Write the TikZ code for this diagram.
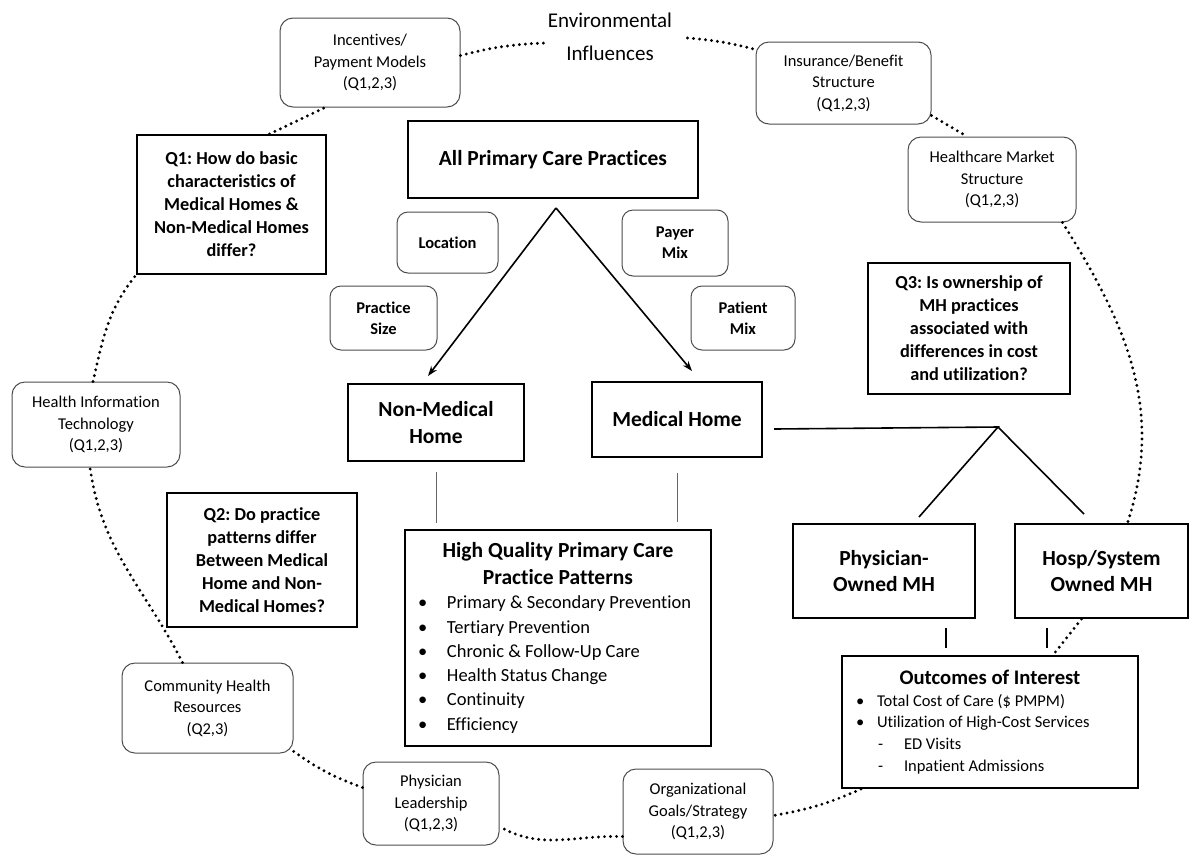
\documentclass[tikz,border=0pt]{standalone}
\usepackage{fontspec}
\setmainfont{Carlito}[Ligatures=NoCommon]
\usetikzlibrary{arrows.meta}
\frenchspacing

\newcommand{\factorfont}{\fontsize{16.5}{21.5}\selectfont}
\newcommand{\traitfont}{\bfseries\fontsize{16.5}{21}\selectfont}
\newcommand{\questionfont}{\bfseries\fontsize{18.3}{23}\selectfont}
\newcommand{\homefont}{\bfseries\fontsize{21.5}{26.5}\selectfont}
\newcommand{\envfont}{\fontsize{21}{33}\selectfont}
\newcommand{\hqitem}[1]{\hspace*{13pt}\makebox[29pt][l]{\textbullet}#1\par}
\newcommand{\outitem}[1]{\hspace*{14pt}\makebox[21pt][l]{\textbullet}#1\par}
\newcommand{\outsub}[1]{\hspace*{36pt}\makebox[26pt][l]{-}#1\par}

\tikzset{
  factor/.style={draw=black!70, line width=1pt, rounded corners=13pt, align=center, inner sep=0pt, font=\factorfont},
  trait/.style={factor, rounded corners=11pt, font=\traitfont},
  question/.style={draw, line width=2pt, align=center, inner sep=0pt, font=\questionfont},
  homebox/.style={question, font=\homefont},
  envline/.style={line width=3.2pt, line cap=round, dash pattern=on 0pt off 6pt},
  linkline/.style={draw=black!60, line width=1pt},
  stub/.style={line width=2pt},
  branch/.style={line width=1.6pt},
  splitarrow/.style={line width=1.6pt, -{Stealth[length=10pt,width=7pt]}}
}

\begin{document}
\begin{tikzpicture}[x=1pt, y=1pt]
      \path [use as bounding box] (0, 0) rectangle (1190, -855);

      % environmental influences round the edge
      \node [font=\envfont, align=center] (env) at (610, -37) {Environmental\\Influences};
      \node [factor, minimum width=180pt, minimum height=89pt] (inc) at (370, -62.5) {Incentives/\\Payment Models\\(Q1,2,3)};
      \node [factor, minimum width=175pt, minimum height=82pt] (ins) at (843.5, -83) {Insurance/Benefit\\Structure\\(Q1,2,3)};
      \node [factor, minimum width=168pt, minimum height=85pt] (hmkt) at (992, -179.5) {Healthcare Market\\Structure\\(Q1,2,3)};
      \node [factor, minimum width=168pt, minimum height=85pt] (hit) at (96, -424.5) {Health Information\\Technology\\(Q1,2,3)};
      \node [factor, minimum width=171pt, minimum height=90pt] (chr) at (207.5, -708) {Community Health\\Resources\\(Q2,3)};
      \node [factor, minimum width=136pt, minimum height=83pt] (phl) at (431, -803.5) {Physician\\Leadership\\(Q1,2,3)};
      \node [factor, minimum width=150pt, minimum height=85pt] (org) at (698, -811.5) {Organizational\\Goals/Strategy\\(Q1,2,3)};

      % research questions
      \node [question, minimum width=189pt, minimum height=139pt] (q1) at (231.5, -204.5) {Q1: How do basic\\characteristics of\\Medical Homes \&\\Non-Medical Homes\\differ?};
      \node [question, minimum width=190pt, minimum height=134pt] (q2) at (262, -560) {Q2: Do practice\\patterns differ\\Between Medical\\Home and Non-\\Medical Homes?};
      \node [question, minimum width=202pt, minimum height=131pt] (q3) at (969, -328.5) {Q3: Is ownership of\\MH practices\\associated with\\differences in cost\\and utilization?};

      % practices
      \node [homebox, minimum width=290pt, minimum height=77pt] (allpc) at (553, -159.5) {All Primary Care Practices};
      \node [trait, minimum width=101pt, minimum height=61pt] (loc) at (447.5, -242.5) {Location};
      \node [trait, minimum width=107pt, minimum height=64pt] (psize) at (383.5, -318) {Practice\\Size};
      \node [trait, minimum width=106pt, minimum height=66pt] (payer) at (675, -243) {Payer\\Mix};
      \node [trait, minimum width=104pt, minimum height=64pt] (patient) at (743, -318) {Patient\\Mix};
      \node [homebox, minimum width=176pt, minimum height=77pt] (nmh) at (436, -422.5) {Non-Medical\\Home};
      \node [homebox, minimum width=170pt, minimum height=75pt] (mh) at (677, -419.5) {Medical Home};
      \node [homebox, minimum width=182pt, minimum height=94pt] (pomh) at (884, -571) {Physician-\\Owned MH};
      \node [homebox, minimum width=173pt, minimum height=94pt] (hsmh) at (1101.5, -571) {Hosp/System\\Owned MH};

      \node [homebox, align=left, text width=306pt, minimum height=216pt] (hq) at (558, -638) {%
        \parindent=0pt\spaceskip=0pt\xspaceskip=0pt
        \centering High Quality Primary Care\par Practice Patterns\par
        \raggedright\mdseries\fontsize{18.5}{24.3}\selectfont
        \hqitem{Primary \& Secondary Prevention}
        \hqitem{Tertiary Prevention}
        \hqitem{Chronic \& Follow-Up Care}
        \hqitem{Health Status Change}
        \hqitem{Continuity}
        \hqitem{Efficiency}};

      \node [homebox, align=left, text width=296pt, minimum height=132pt] (outc) at (990, -722) {%
        \parindent=0pt\spaceskip=0pt\xspaceskip=0pt
        \centering\fontsize{20.7}{25}\selectfont Outcomes of Interest\par
        \raggedright\mdseries\fontsize{16.5}{21.8}\selectfont
        \outitem{Total Cost of Care (\$ PMPM)}
        \outitem{Utilization of High-Cost Services}
        \outsub{ED Visits}
        \outsub{Inpatient Admissions}};

      % split of the practices
      \coordinate (split) at ([shift={(3pt,-9pt)}]allpc.south);
      \draw [splitarrow] (split) -- ([shift={(-8pt,7pt)}]nmh.north);
      \draw [splitarrow] (split) -- ([shift={(15pt,10pt)}]mh.north);

      \draw [linkline] ([yshift=-10pt]nmh.south) -- ++(0, -51pt);
      \draw [linkline] ([yshift=-15pt]mh.south) -- ++(0, -49pt);

      \coordinate (fork) at (998, -427);
      \draw [branch] ([shift={(11pt,-9.5pt)}]mh.east) -- (fork) -- ([shift={(-57pt,6pt)}]pomh.north east);
      \draw [branch] (fork) -- ([shift={(70pt,9pt)}]hsmh.north west);

      \draw [stub] ([shift={(-30pt,-9pt)}]pomh.south east) -- ++(0, -20pt);
      \draw [stub] ([shift={(33pt,-9pt)}]hsmh.south west) -- ++(0, -20pt);

      % dotted ring
      \draw [envline] ([yshift=7pt]inc.east) to [bend left=6] ([yshift=-6pt]env.west);
      \draw [envline] ([shift={(12pt,-1pt)}]env.east) to [bend left=5] ([yshift=-8pt]ins.north west);
      \draw [envline] ([yshift=9pt]ins.south east) -- ([xshift=-25pt]hmkt.north);
      \draw [envline] ([xshift=-14pt]hmkt.south east) to [out=-58, in=72] ([xshift=26pt]hsmh.north);
      \draw [envline] ([xshift=-20pt]hsmh.south) -- ([xshift=63pt]outc.north);
      \draw [envline] ([xshift=20pt]outc.south west) to [bend left=7] ([yshift=-4pt]org.east);
      \draw [envline] ([yshift=-25pt]org.west) to [out=178, in=-30] ([yshift=-23pt]phl.east);
      \draw [envline] ([yshift=16pt]phl.west) to [bend left=8] ([shift={(-1pt,3pt)}]chr.south east);
      \draw [envline] ([xshift=-25pt]chr.north) to [out=117, in=-82] ([xshift=-6pt]hit.south);
      \draw [envline] ([xshift=-3pt]hit.north) to [out=77, in=231] (q1.south west);
      \draw [envline] ([xshift=38pt]q1.north) -- ([xshift=-45pt]inc.south);
\end{tikzpicture}
\end{document}
